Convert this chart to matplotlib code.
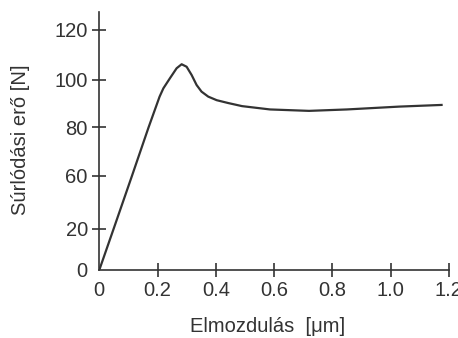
import numpy as np
import matplotlib.pyplot as plt

# displacement (um) and friction force (N)
disp = [0, 0.049, 0.112, 0.169, 0.207, 0.22, 0.2425, 0.2655, 0.2827, 0.2998,
        0.317, 0.334, 0.351, 0.374, 0.403, 0.4425, 0.49, 0.586, 0.72, 0.85,
        1.03, 1.175]
force = [0, 20, 60, 80, 93.0, 96.5, 100.7, 104.7, 106.3, 105.3,
         102.0, 97.9, 95.1, 93.0, 91.5, 90.3, 89.0, 87.6, 87.0, 87.6,
         88.8, 89.5]

xticks = [0, 0.2, 0.4, 0.6, 0.8, 1.0, 1.2]
xlabels = ['0', '0.2', '0.4', '0.6', '0.8', '1.0', '1.2']
yticks = [0, 20, 60, 80, 100, 120]
ylabels = ['0', '20', '60', '80', '100', '120']

# the original axis is not evenly spaced; follow its tick positions
knot_v = [0, 20, 60, 80, 100, 120, 140]
knot_h = [0, 41, 94, 142.5, 190, 240, 290]


def fwd(v):
    return np.interp(v, knot_v, knot_h)


def inv(h):
    return np.interp(h, knot_h, knot_v)


plt.rcParams['font.family'] = ['Liberation Sans', 'DejaVu Sans']
col = '#333333'

fig = plt.figure(figsize=(4.58, 3.38), dpi=100)
ax = fig.add_axes([0.2168, 0.2012, 0.980 - 0.2168, 0.9645 - 0.2012])
ax.set_yscale('function', functions=(fwd, inv))

ax.plot(disp, force, color=col, lw=1.6, solid_joinstyle='round')

ax.set_xlim(0, 1.2)
ax.set_ylim(0, 127.2)
ax.set_xticks(xticks)
ax.set_xticklabels(xlabels)
ax.set_yticks(yticks)
ax.set_yticklabels(ylabels)
ax.minorticks_off()

for s in ['top', 'right']:
    ax.spines[s].set_visible(False)
for s in ['left', 'bottom']:
    ax.spines[s].set_color(col)
    ax.spines[s].set_linewidth(1.2)

ax.tick_params(direction='inout', length=9.5, width=1.2, color=col,
               labelsize=14.5, labelcolor=col, pad=3.5)
ax.xaxis.get_major_ticks()[0].tick1line.set_visible(False)
ax.yaxis.get_major_ticks()[0].tick1line.set_visible(False)

ax.set_xlabel('Elmozdulás  [μm]', fontsize=14.5, color=col)
ax.set_ylabel('Súrlódási erő [N]', fontsize=14.5, color=col)
ax.xaxis.set_label_coords(0.48, -0.182)
ax.yaxis.set_label_coords(-0.198, 0.504)

fig.savefig('out.png', dpi=100)
